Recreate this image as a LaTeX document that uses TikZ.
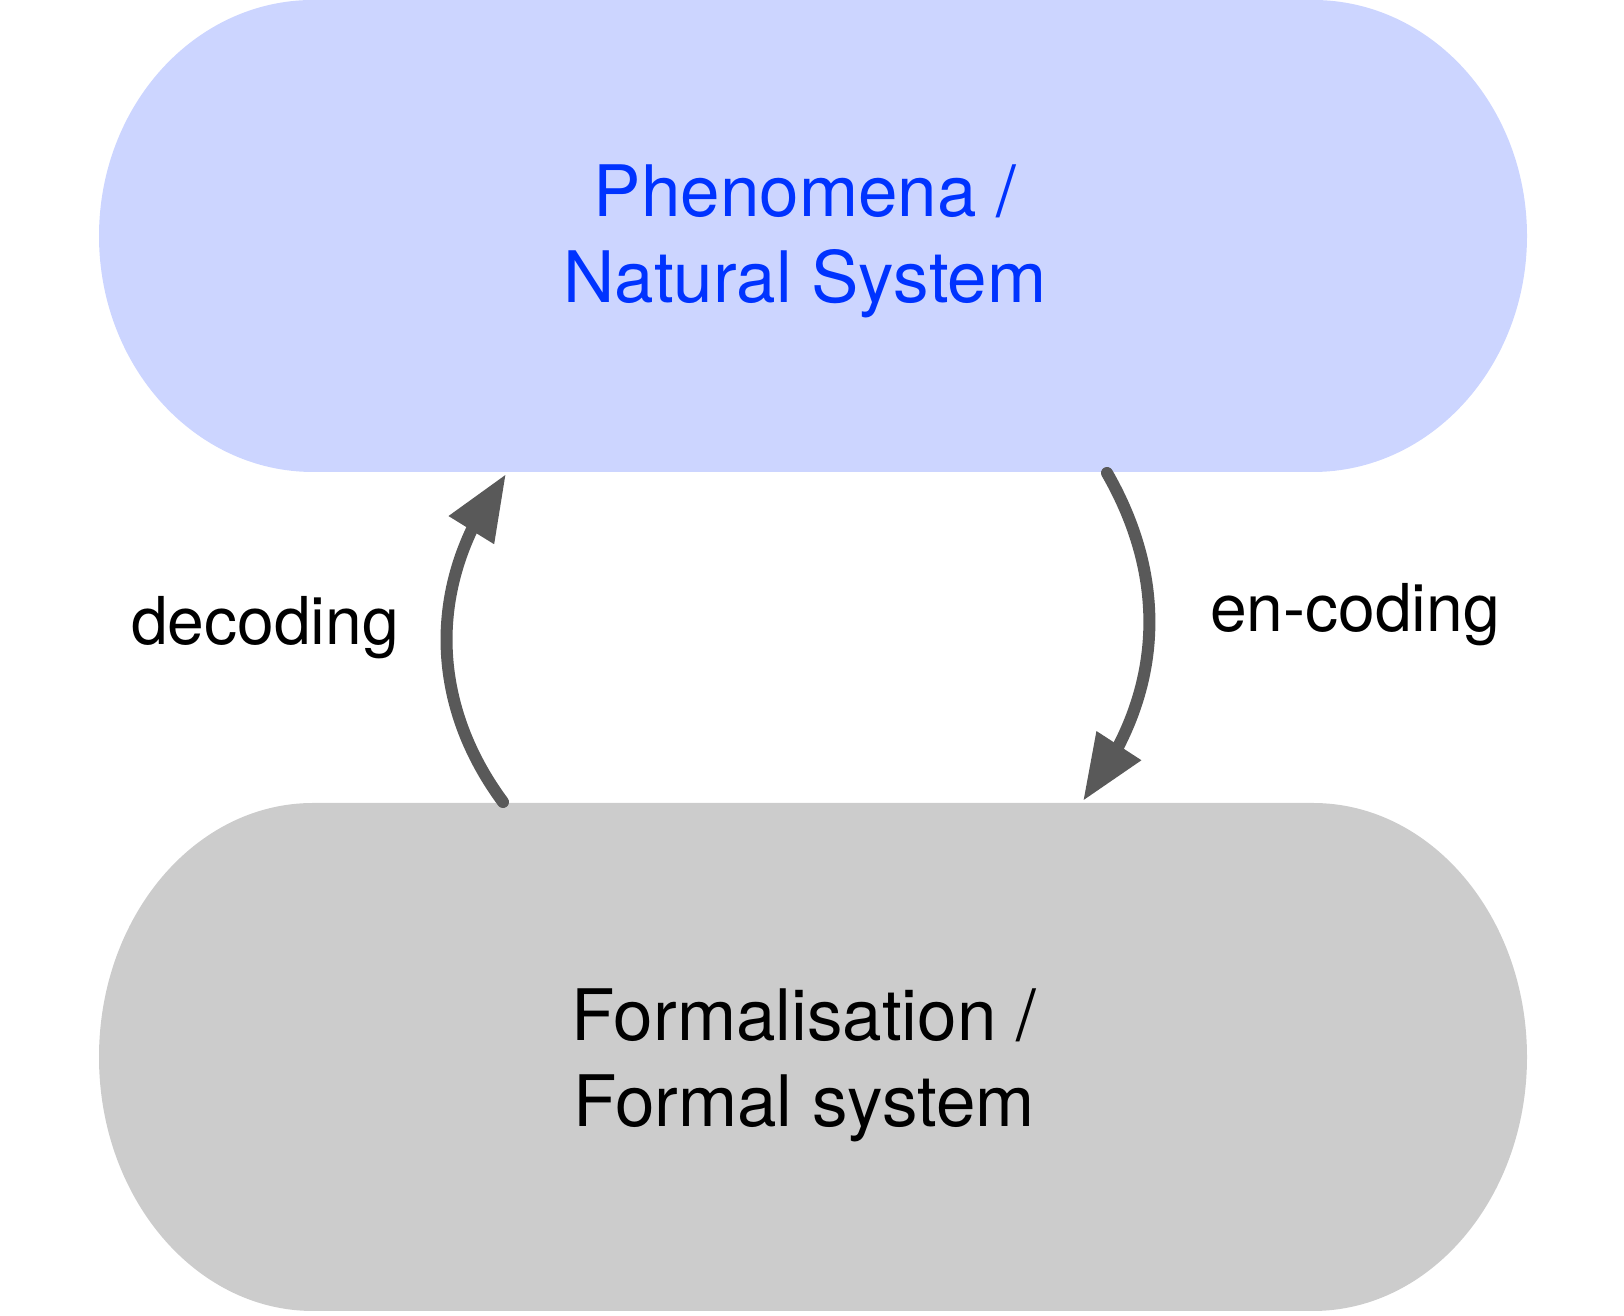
\documentclass[tikz,border=0pt]{standalone}
\usepackage{fontspec}
\setmainfont{TeX Gyre Heros}
\usetikzlibrary{arrows.meta,bending}

\definecolor{natfill}{HTML}{CCD5FF}
\definecolor{nattext}{HTML}{0033FF}
\definecolor{formfill}{HTML}{CCCCCC}
\definecolor{arrowgray}{HTML}{595959}

\begin{document}
\begin{tikzpicture}[x=0.5pt, y=0.5pt,
	boxtext/.style={align=center, anchor=base, font=\fontsize{35.5pt}{43pt}\selectfont},
	labeltext/.style={anchor=base, font=\fontsize{33pt}{38pt}\selectfont},
	codearrow/.style={-{Triangle[length=33pt, width=25pt, flex]}, line width=6pt,
		line cap=round, draw=arrowgray}]
	
	\useasboundingbox (0,0) rectangle (1624,1316);
	
	% natural system
	\fill[natfill] (313,1316) -- (1313,1316)
	arc[start angle=90, end angle=-90, x radius=214, y radius=236]
	-- (313,844)
	arc[start angle=270, end angle=90, x radius=214, y radius=236] -- cycle;
	
	% formal system
	\fill[formfill] (313,513) -- (1313,513)
	arc[start angle=90, end angle=-90, x radius=214, y radius=254]
	-- (313,5)
	arc[start angle=270, end angle=90, x radius=214, y radius=254] -- cycle;
	
	\node[boxtext, text=nattext] (natural) at (805,1013) {Phenomena /\\Natural System};
	\node[boxtext] (formal) at (804,189) {Formalisation /\\Formal system};
	
	\coordinate (natL) at (506,842);
	\coordinate (natR) at (1107,843);
	\coordinate (formL) at (503,514);
	\coordinate (formR) at (1083,515);
	
	\draw[codearrow] (formL) to[bend left=37] (natL);
	\draw[codearrow] (natR) to[bend left=34] (formR);
	
	\node[labeltext] (decode) at (265,671) {decoding};
	\node[labeltext] (encode) at (1355,684) {en-coding};
	
\end{tikzpicture}
\end{document}
